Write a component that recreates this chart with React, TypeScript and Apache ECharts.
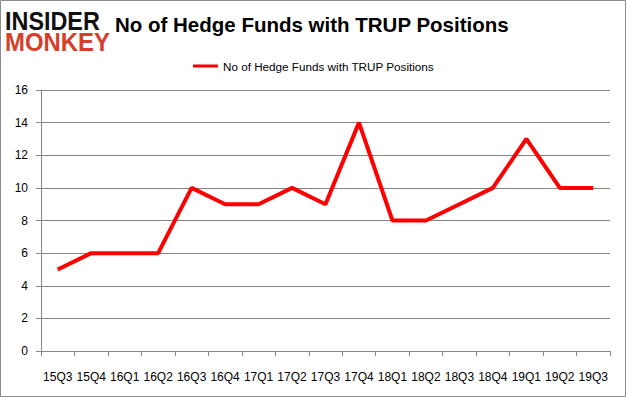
import React, { useEffect, useRef } from "react";
import * as echarts from "echarts";

const categories = ["15Q3","15Q4","16Q1","16Q2","16Q3","16Q4","17Q1","17Q2","17Q3","17Q4","18Q1","18Q2","18Q3","18Q4","19Q1","19Q2","19Q3"];
const hedgeFunds = [5, 6, 6, 6, 10, 9, 9, 10, 9, 14, 8, 8, 9, 10, 13, 10, 10];
const seriesName = "No of Hedge Funds with TRUP Positions";
const titleText = "No of Hedge Funds with TRUP Positions";

export default function App() {
  const ref = useRef<HTMLDivElement>(null);
  useEffect(() => {
    document.body.style.margin = "0";
    const chart = echarts.init(ref.current!, null, { renderer: "svg" });
    const font = "'Liberation Sans', Arial, sans-serif";
    chart.setOption({
      animation: false,
      backgroundColor: "#ffffff",
      grid: { left: 41, right: 16, top: 90, bottom: 46, containLabel: false },
      legend: {
        top: 55,
        left: 188,
        itemWidth: 25,
        itemHeight: 3,
        icon: "rect",
        textStyle: { fontFamily: font, fontSize: 11.7, color: "#000" },
        data: [seriesName],
      },
      graphic: [
        { type: "rect", shape: { x: 0.5, y: 0.5, width: 625, height: 396 }, style: { fill: "none", stroke: "#8c8c8c", lineWidth: 1 }, silent: true },
        { type: "text", x: 5, y: 8, scaleX: 0.9, style: { text: "INSIDER", fontFamily: font, fontWeight: 900, fontSize: 26, fill: "#111" } },
        { type: "text", x: 5, y: 29, scaleX: 0.92, style: { text: "MONKEY", fontFamily: font, fontWeight: 900, fontSize: 26, fill: "#d5402b" } },
        { type: "text", x: 115, y: 14, style: { text: titleText, fontFamily: font, fontWeight: "bold", fontSize: 20.5, fill: "#000" } },
      ],
      xAxis: {
        type: "category",
        data: categories,
        boundaryGap: true,
        axisLine: { show: true, lineStyle: { color: "#868686", width: 1 } },
        axisTick: { show: true, length: 5, lineStyle: { color: "#868686" } },
        axisLabel: { fontFamily: font, fontSize: 12, color: "#000", margin: 20, interval: 0 },
      },
      yAxis: {
        type: "value",
        min: 0,
        max: 16,
        interval: 2,
        axisLine: { show: true, lineStyle: { color: "#868686", width: 1 } },
        axisTick: { show: true, length: 5, lineStyle: { color: "#868686" } },
        axisLabel: { fontFamily: font, fontSize: 12, color: "#000", margin: 13 },
        splitLine: { show: true, lineStyle: { color: "#868686", width: 1 } },
      },
      series: [
        {
          name: seriesName,
          type: "line",
          data: hedgeFunds,
          symbol: "none",
          lineStyle: { color: "#ff0000", width: 4 },
          itemStyle: { color: "#ff0000" },
        },
      ],
    });
    return () => chart.dispose();
  }, []);
  return <div ref={ref} style={{ width: 626, height: 397 }} />;
}
